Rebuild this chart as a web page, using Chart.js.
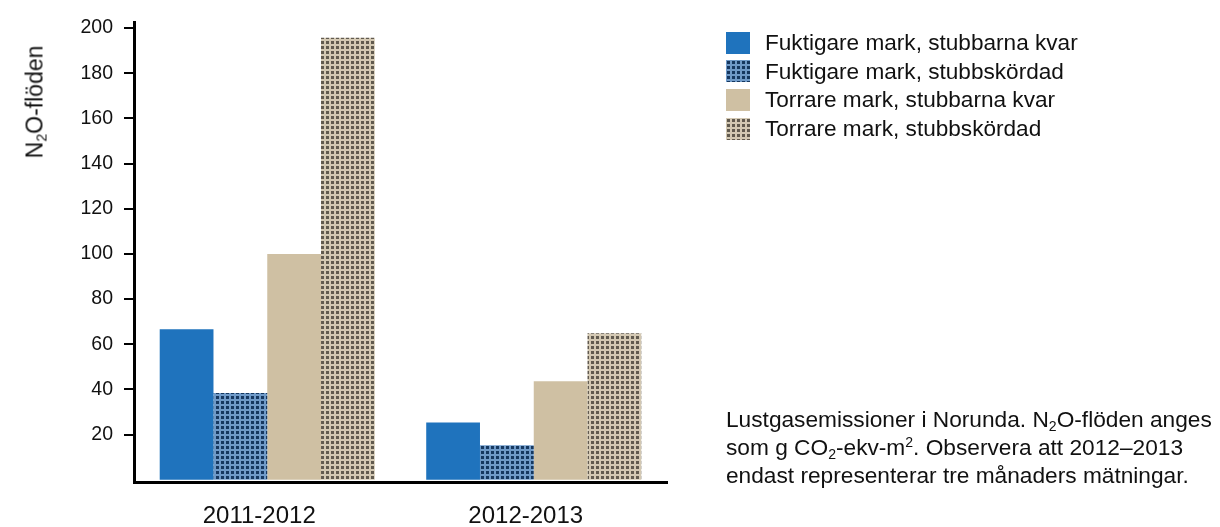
<!DOCTYPE html>
<html>
<head>
<meta charset="utf-8">
<script src="https://cdn.jsdelivr.net/npm/chart.js@4"></script>
<style>
  body { margin: 0; background: #fff; font-family: "Liberation Sans", Arial, sans-serif; color: #111; }
  #wrap { position: relative; width: 1220px; height: 527px; }
  #chart { position: absolute; left: 0; top: 0; }
  .ytitle { position: absolute; left: 35px; top: 102px; font-size: 23px; white-space: nowrap;
            transform: translate(-50%, -50%) rotate(-90deg); }
  sub { font-size: 0.62em; vertical-align: -0.3em; line-height: 0; }
  sup { font-size: 0.62em; vertical-align: 0.55em; line-height: 0; }
  #legend { position: absolute; left: 726px; top: 29px; font-size: 22.6px; }
  .row { height: 28.7px; position: relative; white-space: nowrap; line-height: 28.7px; }
  .sw { position: absolute; left: 0; top: 2.5px; width: 24px; height: 22px; }
  .row span { position: absolute; left: 39px; top: 0; }
  #caption { position: absolute; left: 726px; top: 405px; font-size: 22.7px; line-height: 28px; white-space: nowrap; }
</style>
</head>
<body>
<div id="wrap">
  <canvas id="chart" width="1220" height="527"></canvas>
  <div class="ytitle">N<sub>2</sub>O-flöden</div>
  <div id="legend"></div>
  <div id="caption">
    Lustgasemissioner i Norunda. N<sub>2</sub>O-flöden anges<br>
    som g CO<sub>2</sub>-ekv-m<sup>2</sup>. Observera att 2012–2013<br>
    endast representerar tre månaders mätningar.
  </div>
</div>
<script>
const categories = ["2011-2012", "2012-2013"];
const seriesNames = [
  "Fuktigare mark, stubbarna kvar",
  "Fuktigare mark, stubbskördad",
  "Torrare mark, stubbarna kvar",
  "Torrare mark, stubbskördad"
];
const wetKept = [66.7, 25.3];
const wetHarvested = [38.4, 15.3];
const dryKept = [100, 43.6];
const dryHarvested = [195.7, 64.9];

// small checkered tiles for the "stubbskördad" bars
function makeTile(light, dark) {
  const c = document.createElement("canvas");
  c.width = 5; c.height = 5;
  const g = c.getContext("2d");
  g.fillStyle = light; g.fillRect(0, 0, 5, 5);
  g.fillStyle = dark; g.fillRect(1, 1, 3, 3);
  return c;
}

const ctx = document.getElementById("chart").getContext("2d");
const blueTile = makeTile("#6f9ac8", "#163860");
const tanTile = makeTile("#d3c8b3", "#615a4f");
const fills = [
  "#1f73bd",
  ctx.createPattern(blueTile, "repeat"),
  "#cfc0a3",
  ctx.createPattern(tanTile, "repeat")
];
const swatches = [
  "background:#1f73bd",
  "background-image:url(" + blueTile.toDataURL() + ")",
  "background:#cfc0a3",
  "background-image:url(" + tanTile.toDataURL() + ")"
];
const values = [wetKept, wetHarvested, dryKept, dryHarvested];

document.getElementById("legend").innerHTML = seriesNames.map((name, i) =>
  '<div class="row"><div class="sw" style="' + swatches[i] + '"></div><span>' + name + '</span></div>'
).join("");

new Chart(ctx, {
  type: "bar",
  data: {
    labels: categories,
    datasets: seriesNames.map((name, i) => ({
      label: name,
      data: values[i],
      backgroundColor: fills[i],
      borderWidth: 0,
      categoryPercentage: 0.807,
      barPercentage: 1.0
    }))
  },
  options: {
    responsive: false,
    animation: false,
    layout: { padding: { left: 0, top: 17, right: 553, bottom: 0 } },
    plugins: {
      legend: { display: false },
      tooltip: { enabled: false }
    },
    scales: {
      x: {
        grid: { display: false, drawTicks: false },
        border: { display: true, width: 3, color: "#000" },
        ticks: {
          color: "#111",
          padding: 20,
          labelOffset: -8,
          font: { family: "Liberation Sans", size: 24 }
        },
        afterFit: s => { s.height = 45; }
      },
      y: {
        min: -1,
        max: 202.4,
        grid: { display: true, drawOnChartArea: false, drawTicks: true, tickLength: 10, color: "#000", lineWidth: 2 },
        border: { display: true, width: 3, color: "#000" },
        ticks: {
          stepSize: 20,
          includeBounds: false,
          color: "#111",
          padding: 11,
          font: { family: "Liberation Sans", size: 19.5 }
        },
        afterBuildTicks: axis => { axis.ticks = axis.ticks.filter(t => t.value > 0); },
        afterFit: s => { s.width = 134; }
      }
    }
  }
});
</script>
</body>
</html>
